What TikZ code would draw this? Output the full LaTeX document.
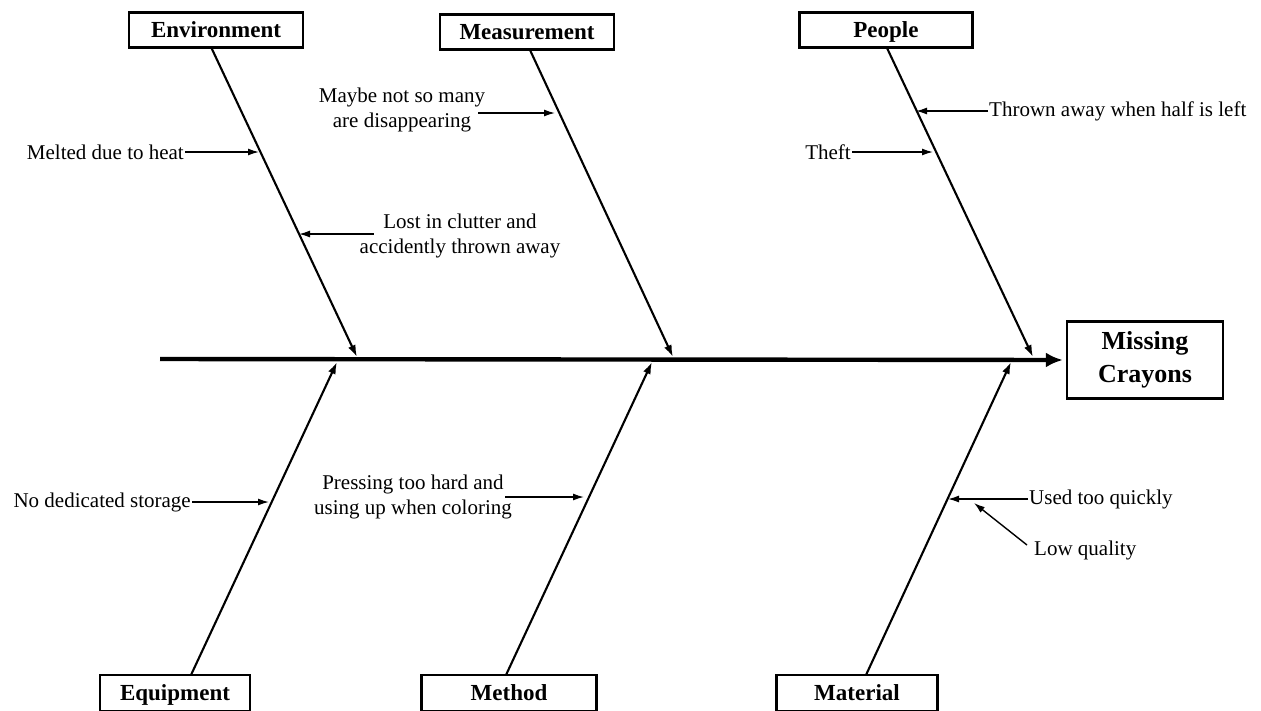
\documentclass[tikz,border=0pt]{standalone}
\usepackage{fontspec}
\setmainfont{Liberation Serif}
\usetikzlibrary{arrows.meta}
\begin{document}
\begin{tikzpicture}[x=1pt,y=-1pt,
 cat/.style={draw,line width=2.4pt,font=\bfseries\fontsize{23}{26}\selectfont,inner sep=0pt,text height=17pt,text depth=2pt,minimum height=35pt},
 goalbox/.style={draw,line width=2.4pt,font=\bfseries\fontsize{26}{33}\selectfont,align=center,inner sep=0pt,minimum width=156pt,minimum height=77pt},
 lbl/.style={font=\fontsize{21}{25}\selectfont,align=center,inner sep=1pt},
 bone/.style={line width=2.1pt,-{Latex[length=12pt,width=8pt]}},
 arr/.style={line width=1.4pt,-{Latex[length=11pt,width=7pt]}},
 spine/.style={line width=4.4pt,-{Latex[length=17pt,width=15pt]}}]
\path[use as bounding box] (0,0) rectangle (1261,710);
\clip (0,0) rectangle (1261,710);

% category boxes
\node[cat,minimum width=174pt] (env) at (216,30) {Environment};
\node[cat,minimum width=174pt] (meas) at (527,32) {Measurement};
\node[cat,minimum width=173pt] (peop) at (886,30) {People};
\node[cat,minimum width=150pt,minimum height=36pt] (equip) at (175,693) {Equipment};
\node[cat,minimum width=175pt,minimum height=36pt] (meth) at (509,693) {Method};
\node[cat,minimum width=161pt,minimum height=36pt] (mat) at (857,693) {Material};
\node[goalbox] (goal) at (1145,360) {Missing\\Crayons};

% spine
\coordinate (tail) at (160,359);
\draw[spine,shorten >=3pt] (tail) -- (goal.west);

% bone ends
\coordinate (envtop) at (211,47);   \coordinate (envfoot) at (357,357);
\coordinate (meastop) at (530,50);  \coordinate (measfoot) at (673,357);
\coordinate (peoptop) at (887,48);  \coordinate (peopfoot) at (1033,357);
\coordinate (eqtop) at (191,675);   \coordinate (eqfoot) at (337,362);
\coordinate (mettop) at (506,675);  \coordinate (metfoot) at (652,362);
\coordinate (mattop) at (866,675);  \coordinate (matfoot) at (1011,362);

\draw[bone] (envtop) -- (envfoot);
\draw[bone] (meastop) -- (measfoot);
\draw[bone] (peoptop) -- (peopfoot);
\draw[bone] (eqtop) -- (eqfoot);
\draw[bone] (mettop) -- (metfoot);
\draw[bone] (mattop) -- (matfoot);

% labels
\node[lbl,anchor=east] (melt) at (185,152) {Melted due to heat};
\node[lbl] (maybe) at (402,110) {Maybe not so many\\are disappearing};
\node[lbl] (lost) at (460,236) {Lost in clutter and\\accidently thrown away};
\node[lbl,anchor=west] (thrown) at (988,111) {Thrown away when half is left};
\node[lbl,anchor=east] (theft) at (852,152) {Theft};
\node[lbl,anchor=east] (nodedic) at (192,502) {No dedicated storage};
\node[lbl] (press) at (413,497) {Pressing too hard and\\using up when coloring};
\node[lbl,anchor=west] (used) at (1028,499) {Used too quickly};
\node[lbl,anchor=west] (lowq) at (1033,550) {Low quality};

% arrow targets
\coordinate (t1) at (259,152);
\coordinate (t2) at (555,113);
\coordinate (t3) at (299,234);
\coordinate (t4) at (916,111);
\coordinate (t5) at (933,152);
\coordinate (t6) at (269,502);
\coordinate (t7) at (584,497);
\coordinate (t8) at (948,499);
\coordinate (t9) at (974,503);
\coordinate (s9) at (1027,545);

\draw[arr] (melt.east) -- (t1);
\draw[arr] ([shift={(-8,3)}]maybe.east) -- (t2);
\draw[arr] ([shift={(15,-2)}]lost.west) -- (t3);
\draw[arr] (thrown.west) -- (t4);
\draw[arr] (theft.east) -- (t5);
\draw[arr] (nodedic.east) -- (t6);
\draw[arr] ([xshift=-8]press.east) -- (t7);
\draw[arr] (used.west) -- (t8);
\draw[arr] (s9) -- (t9);
\end{tikzpicture}
\end{document}
